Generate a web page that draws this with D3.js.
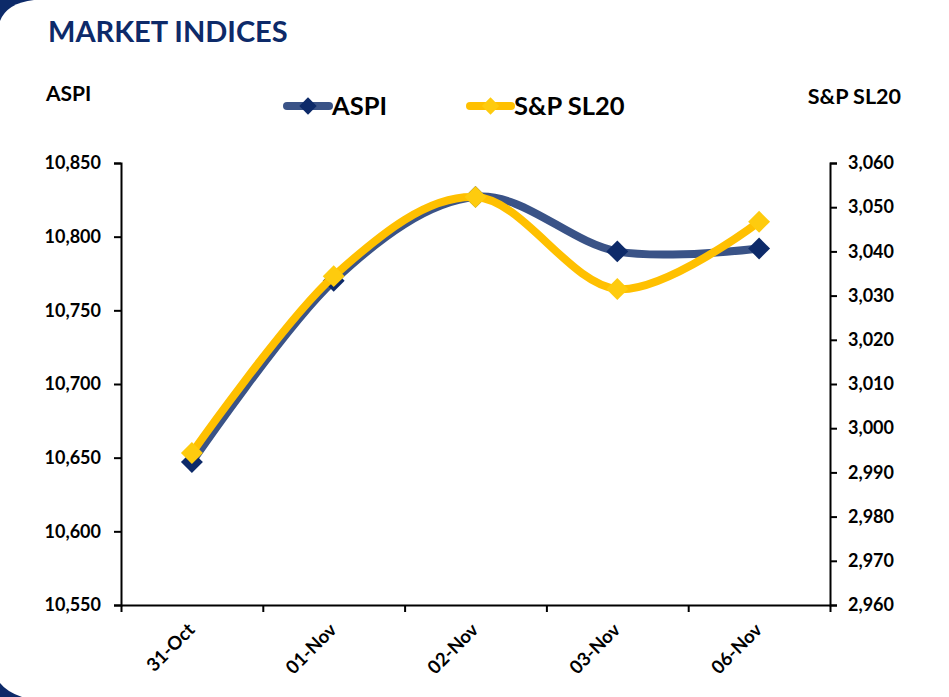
<!DOCTYPE html>
<html>
<head>
<meta charset="utf-8">
<script src="https://cdn.jsdelivr.net/npm/d3@7"></script>
<style>
    body { margin: 0; background: #ffffff; }
    svg { display: block; font-family: Lato, 'Open Sans', sans-serif; }
</style>
</head>
<body>
<svg></svg>
<script>
const categories = ['31-Oct', '01-Nov', '02-Nov', '03-Nov', '06-Nov'];
const aspiValues = [10647, 10770, 10827, 10790, 10792];
const slValues = [2994.4, 3034.4, 3052.3, 3031.5, 3046.7];
const aspiTicks = [10550, 10600, 10650, 10700, 10750, 10800, 10850];
const slTicks = [2960, 2970, 2980, 2990, 3000, 3010, 3020, 3030, 3040, 3050, 3060];

const WIDTH = 949;
const HEIGHT = 697;
const PLOT = { left: 121, right: 830, top: 163, bottom: 605 };

const NAVY_LINE = '#3a5387';
const NAVY_MARK = '#0d2a69';
const GOLD_LINE = '#ffc000';
const GOLD_MARK = '#fecb0e';

const svg = d3.select('svg')
    .attr('width', WIDTH)
    .attr('height', HEIGHT);

// card background with navy corners
svg.append('rect')
    .attr('width', WIDTH)
    .attr('height', HEIGHT)
    .attr('fill', '#0d2a69');
svg.append('path')
    .attr('d', 'M0,21 Q7,3 34,0 L949,0 L949,697 L22,697 Q7,692 0,683 Z')
    .attr('fill', '#ffffff');

svg.append('text')
    .attr('x', 48)
    .attr('y', 42)
    .attr('fill', '#0d2a69')
    .attr('font-size', 29)
    .attr('font-weight', 'bold')
    .text('MARKET INDICES');

svg.append('text')
    .attr('x', 46)
    .attr('y', 101)
    .attr('font-size', 21)
    .attr('font-weight', 'bold')
    .text('ASPI');

svg.append('text')
    .attr('x', 901)
    .attr('y', 104)
    .attr('text-anchor', 'end')
    .attr('font-size', 21.5)
    .attr('font-weight', 'bold')
    .text('S&P SL20');

const xScale = d3.scaleBand().domain(categories).range([PLOT.left, PLOT.right]);
const xEdge = d3.scaleLinear().domain([0, categories.length]).range([PLOT.left, PLOT.right]);
const yLeft = d3.scaleLinear().domain([10550, 10850]).range([PLOT.bottom, PLOT.top]);
const yRight = d3.scaleLinear().domain([2960, 3060]).range([PLOT.bottom, PLOT.top]);
const cx = d => xScale(d) + xScale.bandwidth() / 2;

const axisStyle = g => {
    g.selectAll('path, line').attr('stroke', '#000').attr('stroke-width', 2);
    g.selectAll('text')
        .attr('fill', '#000')
        .attr('font-size', 18)
        .attr('font-weight', 'bold')
        .attr('font-family', 'Lato, sans-serif');
};

svg.append('g')
    .attr('transform', `translate(${PLOT.left},0)`)
    .call(d3.axisLeft(yLeft).tickValues(aspiTicks).tickSize(7).tickSizeOuter(7).tickPadding(13).tickFormat(d3.format(',')))
    .call(axisStyle);

svg.append('g')
    .attr('transform', `translate(${PLOT.right},0)`)
    .call(d3.axisRight(yRight).tickValues(slTicks).tickSize(7).tickSizeOuter(7).tickPadding(11).tickFormat(d3.format(',')))
    .call(axisStyle);

svg.append('g')
    .attr('transform', `translate(0,${PLOT.bottom})`)
    .call(d3.axisBottom(xEdge).ticks(categories.length).tickSize(7).tickSizeOuter(0).tickFormat(''))
    .call(axisStyle);

svg.append('g')
    .selectAll('text')
    .data(categories)
    .join('text')
    .attr('transform', d => `translate(${cx(d) + 4},${PLOT.bottom + 26}) rotate(-45)`)
    .attr('text-anchor', 'end')
    .attr('font-size', 18.5)
    .attr('font-weight', 'bold')
    .text(d => d);

const diamond = d3.symbol().type(d3.symbolSquare);

const series = [
    { name: 'ASPI', values: aspiValues, y: yLeft, line: NAVY_LINE, mark: NAVY_MARK },
    { name: 'S&P SL20', values: slValues, y: yRight, line: GOLD_LINE, mark: GOLD_MARK }
];

series.forEach(s => {
    const line = d3.line()
        .x((d, i) => cx(categories[i]))
        .y(d => s.y(d))
        .curve(d3.curveCardinal.tension(0));

    svg.append('path')
        .datum(s.values)
        .attr('d', line)
        .attr('fill', 'none')
        .attr('stroke', s.line)
        .attr('stroke-width', 8)
        .attr('stroke-linecap', 'round');

    svg.append('g')
        .selectAll('path')
        .data(s.values)
        .join('path')
        .attr('d', diamond.size(240))
        .attr('transform', (d, i) => `translate(${cx(categories[i])},${s.y(d)}) rotate(45)`)
        .attr('fill', s.mark);
});

// legend
const legend = [
    { name: 'ASPI', x0: 287, x1: 329, tx: 332, line: NAVY_LINE, mark: NAVY_MARK },
    { name: 'S&P SL20', x0: 470, x1: 511, tx: 514, line: GOLD_LINE, mark: GOLD_MARK }
];

legend.forEach(l => {
    svg.append('line')
        .attr('x1', l.x0).attr('x2', l.x1)
        .attr('y1', 106).attr('y2', 106)
        .attr('stroke', l.line)
        .attr('stroke-width', 8)
        .attr('stroke-linecap', 'round');
    svg.append('path')
        .attr('d', diamond.size(150))
        .attr('transform', `translate(${(l.x0 + l.x1) / 2},106) rotate(45)`)
        .attr('fill', l.mark);
    svg.append('text')
        .attr('x', l.tx)
        .attr('y', 115)
        .attr('font-size', 25.5)
        .attr('font-weight', 'bold')
        .text(l.name);
});
</script>
</body>
</html>
